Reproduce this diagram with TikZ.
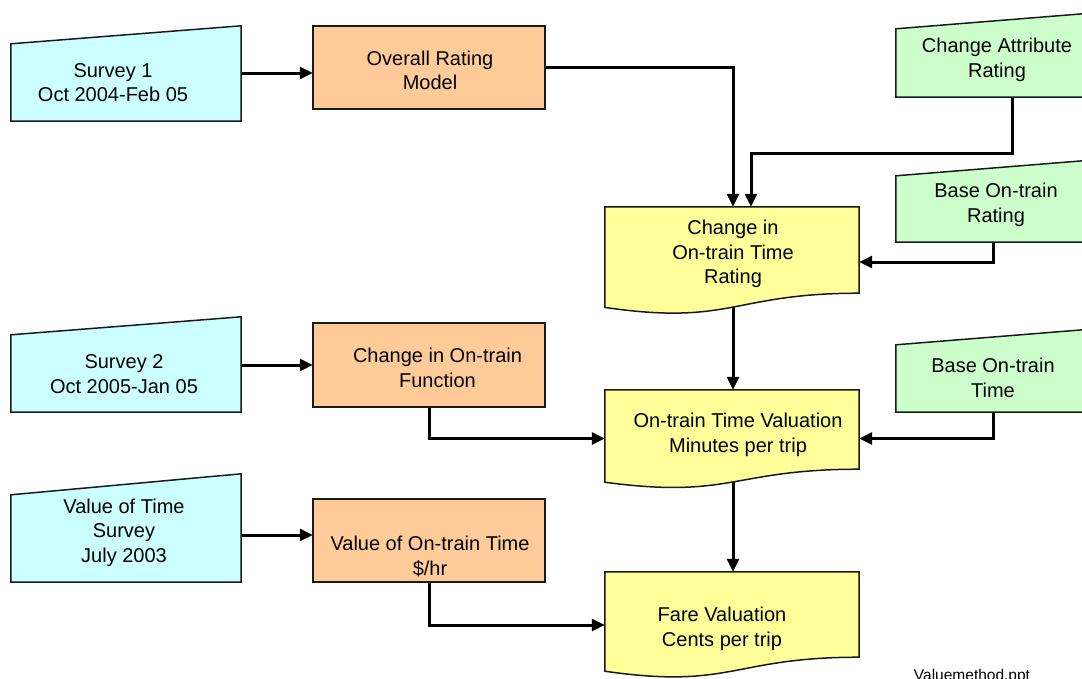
\documentclass[tikz,border=0pt]{standalone}
\usepackage{fontspec}
\setmainfont{Liberation Sans}
\usetikzlibrary{arrows.meta,calc}
\definecolor{cyanf}{HTML}{CCFFFF}
\definecolor{orangef}{HTML}{FFCC99}
\definecolor{yellowf}{HTML}{FFFF99}
\definecolor{greenf}{HTML}{CCFFCC}
\definecolor{edgec}{HTML}{1A1A1A}
\pgfdeclarelayer{connlayer}
\pgfdeclarelayer{shapelayer}
\pgfsetlayers{connlayer,shapelayer,main}
% manual-input shape: node, fill colour, rise of top-right corner
\newcommand\mymanual[3]{%
  \begin{pgfonlayer}{shapelayer}
    \draw[outline, fill=#2] (#1.south west) -- (#1.south east) -- ([yshift=#3pt]#1.north east) -- (#1.north west) -- cycle;
  \end{pgfonlayer}}
% plain process box
\newcommand\myproc[2]{%
  \begin{pgfonlayer}{shapelayer}
    \draw[outline, fill=#2] (#1.south west) rectangle (#1.north east);
  \end{pgfonlayer}}
% document shape: node, left-bottom drop, control drop
\newcommand\mydoc[3]{%
  \begin{pgfonlayer}{shapelayer}
    \draw[outline, fill=yellowf] (#1.south east) -- (#1.north east) -- (#1.north west) -- ([yshift=-#2pt]#1.south west)
      .. controls ([yshift=-#3pt]#1.south) and (#1.south) .. (#1.south east) -- cycle;
  \end{pgfonlayer}}
\begin{document}
\begin{tikzpicture}[x=1pt,y=-1pt,
  bodybox/.style={rectangle, draw=none, inner sep=0pt},
  lbl/.style={align=center, font=\fontsize{20}{24.5}\selectfont, inner sep=0pt},
  outline/.style={draw=edgec, line width=1.5pt, line join=miter},
  arr/.style={draw=black, line width=3pt, -{Triangle[length=13pt,width=12pt]}}]
\useasboundingbox (0,0) rectangle (1082,678);
\begin{pgfonlayer}{connlayer}
  \fill[white] (0,0) rectangle (1082,678);
\end{pgfonlayer}

% ---- bodies ----
\node[bodybox, minimum width=230pt, minimum height=77pt] (s1) at (126,82.5) {};
\node[bodybox, minimum width=230pt, minimum height=77pt] (s2) at (126,373.5) {};
\node[bodybox, minimum width=230pt, minimum height=87pt] (s3) at (126,538.5) {};

\node[bodybox, minimum width=232pt, minimum height=83pt] (o1) at (429,67.5) {};
\node[bodybox, minimum width=232pt, minimum height=84pt] (o2) at (429,365) {};
\node[bodybox, minimum width=232pt, minimum height=83pt] (o3) at (429,540.5) {};

\node[bodybox, minimum width=254pt, minimum height=86pt] (d1) at (732,250) {};
\node[bodybox, minimum width=254pt, minimum height=79pt] (d2) at (732,429.5) {};
\node[bodybox, minimum width=254pt, minimum height=85pt] (d3) at (732,614.5) {};

\node[bodybox, minimum width=199pt, minimum height=68pt] (g1) at (995.5,63) {};
\node[bodybox, minimum width=199pt, minimum height=66pt] (g2) at (995.5,209) {};
\node[bodybox, minimum width=199pt, minimum height=67pt] (g3) at (995.5,378.5) {};

% ---- shapes ----
\mymanual{s1}{cyanf}{18}
\mymanual{s2}{cyanf}{18}
\mymanual{s3}{cyanf}{21}
\myproc{o1}{orangef}
\myproc{o2}{orangef}
\myproc{o3}{orangef}
\mydoc{d1}{14.2}{32.8}
\mydoc{d2}{13.0}{30.1}
\mydoc{d3}{14.0}{32.4}
\mymanual{g1}{greenf}{16}
\mymanual{g2}{greenf}{16}
\mymanual{g3}{greenf}{16}

% ---- texts ----
\node[lbl] (s1t) at (113,82.5) {Survey 1\\Oct 2004-Feb 05};
\node[lbl] (s2t) at (124,374) {Survey 2\\Oct 2005-Jan 05};
\node[lbl] (s3t) at (124,532.5) {Value of Time\\Survey\\July 2003};
\node[lbl] (o1t) at (430,70.5) {Overall Rating\\Model};
\node[lbl] (o2t) at (437.5,368) {Change in On-train\\Function};
\node[lbl] (o3t) at (430,556.5) {Value of On-train Time\\\$/hr};
\node[lbl] (d1t) at (733,254) {Change in\\On-train Time\\Rating};
\node[lbl] (d2t) at (738,435) {On-train Time Valuation\\Minutes per trip};
\node[lbl] (d3t) at (722,629) {Fare Valuation\\Cents per trip};
\node[lbl] (g1t) at (997,60) {Change Attribute\\Rating};
\node[lbl] (g2t) at (996,205) {Base On-train\\Rating};
\node[lbl] (g3t) at (993,378) {Base On-train\\Time};
\node[font=\fontsize{15.5}{18}\selectfont, anchor=base, inner sep=0pt] (fn) at (972,680) {Valuemethod.ppt};

% ---- connectors ----
\begin{pgfonlayer}{connlayer}
  \draw[arr] ([yshift=9.5pt]s1.east) -- ([yshift=9.5pt]s1.east -| o1.west);
  \draw[arr] ([yshift=8.5pt]s2.east) -- ([yshift=8.5pt]s2.east -| o2.west);
  \draw[arr] ([yshift=3.5pt]s3.east) -- ([yshift=3.5pt]s3.east -| o3.west);
  \draw[arr] (o1.east) -| ([xshift=1pt]d1.north);
  \draw[arr] ([xshift=16.5pt]g1.south) -- ++(0,56) -| ([xshift=19pt]d1.north);
  \draw[arr] ([xshift=-2.5pt]g2.south) |- ([yshift=-12pt]d1.east);
  \draw[arr] ([xshift=1pt]d1.south) -- ([xshift=1pt]d2.north);
  \draw[arr] (o2.south) |- ([yshift=-9pt]d2.west);
  \draw[arr] ([xshift=-2.5pt]g3.south) |- ([yshift=-9pt]d2.east);
  \draw[arr] ([xshift=1pt]d2.south) -- ([xshift=1pt]d3.north);
  \draw[arr] (o3.south) |- ([yshift=-10.5pt]d3.west);
\end{pgfonlayer}
\end{tikzpicture}
\end{document}
